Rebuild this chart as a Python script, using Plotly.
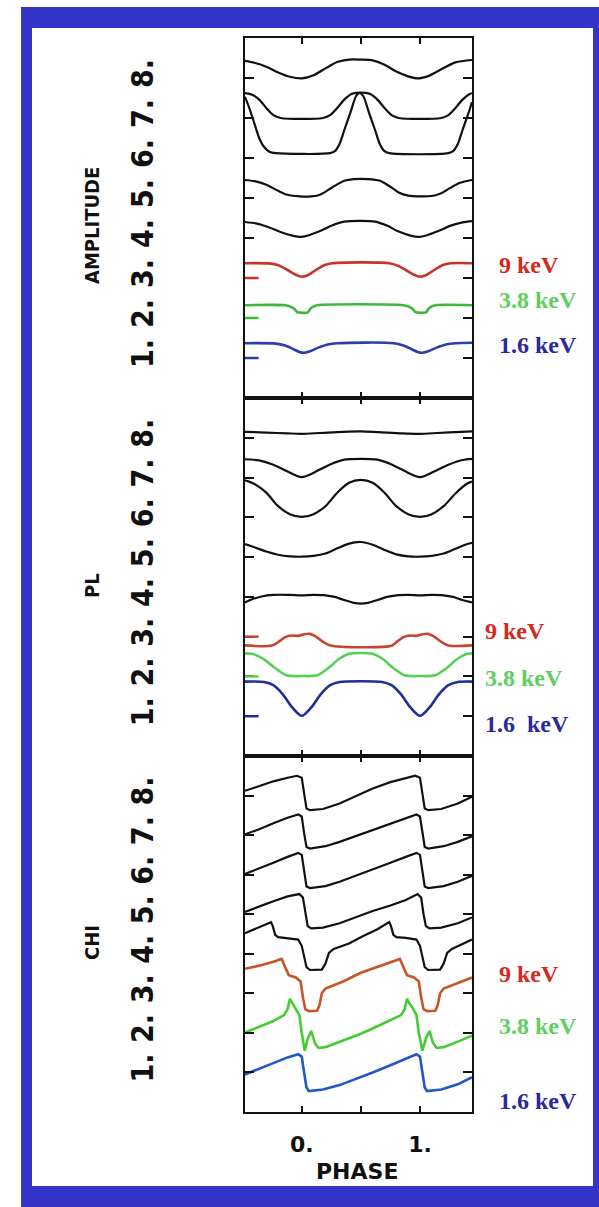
import plotly.graph_objects as go

# ---------------- data (phase, normalised value + offset) ----------------
PHASE_RANGE = [-0.48, 1.44]
Y_RANGE = [0, 9]
Y_TICKS = [1, 2, 3, 4, 5, 6, 7, 8]
Y_TICK_TEXT = ["1.", "2.", "3.", "4.", "5.", "6.", "7.", "8."]
X_TICKS = [0, 0.5, 1]
X_TICK_TEXT = ["0.", "", "1."]
PANEL_TITLES = ["AMPLITUDE", "PL", "CHI"]
ENERGY_LABELS = ["9 keV", "3.8 keV", "1.6 keV"]
ENERGY_LABELS_PL = ["9 keV", "3.8 keV", "1.6  keV"]

# AMPLITUDE panel
amp_8 = [(-0.48, 8.43), (-0.40, 8.38), (-0.30, 8.28), (-0.20, 8.14), (-0.10, 8.03), (0.00, 7.99),
         (0.10, 8.07), (0.20, 8.24), (0.30, 8.40), (0.40, 8.46), (0.50, 8.46), (0.60, 8.44),
         (0.70, 8.33), (0.80, 8.16), (0.90, 8.04), (0.98, 7.99), (1.08, 8.06), (1.20, 8.25),
         (1.30, 8.39), (1.44, 8.45)]
amp_7 = [(-0.48, 7.62), (-0.42, 7.58), (-0.36, 7.46), (-0.30, 7.25), (-0.24, 7.07), (-0.18, 7.00),
         (0.18, 7.00), (0.24, 7.07), (0.30, 7.25), (0.36, 7.46), (0.42, 7.60), (0.46, 7.63),
         (0.54, 7.63), (0.58, 7.60), (0.64, 7.46), (0.70, 7.25), (0.76, 7.07), (0.82, 7.00),
         (1.18, 7.00), (1.24, 7.07), (1.30, 7.25), (1.36, 7.46), (1.42, 7.60), (1.44, 7.62)]
amp_6 = [(-0.48, 7.53), (-0.45, 7.30), (-0.41, 6.95), (-0.36, 6.50), (-0.32, 6.28), (-0.27, 6.15),
         (-0.22, 6.12), (0.24, 6.12), (0.28, 6.17), (0.32, 6.35), (0.36, 6.70), (0.41, 7.12),
         (0.46, 7.55), (0.49, 7.63), (0.52, 7.55), (0.57, 7.12), (0.62, 6.70), (0.66, 6.35),
         (0.70, 6.17), (0.74, 6.12), (1.24, 6.12), (1.28, 6.17), (1.32, 6.35), (1.36, 6.70),
         (1.41, 7.12), (1.44, 7.40)]
amp_5 = [(-0.48, 5.45), (-0.40, 5.42), (-0.30, 5.33), (-0.20, 5.18), (-0.12, 5.08), (-0.02, 5.04),
         (0.08, 5.04), (0.16, 5.09), (0.26, 5.27), (0.36, 5.43), (0.44, 5.47), (0.56, 5.47),
         (0.66, 5.43), (0.74, 5.30), (0.82, 5.14), (0.90, 5.06), (1.00, 5.04), (1.10, 5.05),
         (1.18, 5.12), (1.26, 5.26), (1.34, 5.38), (1.44, 5.45)]
amp_4 = [(-0.48, 4.40), (-0.38, 4.36), (-0.28, 4.27), (-0.18, 4.15), (-0.08, 4.06), (0.00, 4.03),
         (0.06, 4.07), (0.16, 4.18), (0.26, 4.32), (0.36, 4.41), (0.50, 4.43), (0.62, 4.41),
         (0.72, 4.31), (0.82, 4.16), (0.92, 4.06), (0.99, 4.03), (1.06, 4.07), (1.16, 4.18),
         (1.26, 4.31), (1.36, 4.39), (1.44, 4.42)]
amp_3 = [(-0.48, 3.37), (-0.26, 3.36), (-0.19, 3.31), (-0.12, 3.20), (-0.05, 3.08), (0.00, 3.03),
         (0.05, 3.07), (0.12, 3.20), (0.19, 3.32), (0.26, 3.37), (0.74, 3.37), (0.81, 3.31),
         (0.88, 3.20), (0.95, 3.08), (1.00, 3.03), (1.05, 3.07), (1.12, 3.20), (1.19, 3.32),
         (1.26, 3.37), (1.44, 3.37)]
amp_2 = [(-0.48, 2.32), (-0.14, 2.32), (-0.10, 2.29), (-0.06, 2.22), (-0.04, 2.15), (0.05, 2.14),
         (0.07, 2.22), (0.10, 2.29), (0.13, 2.32), (0.86, 2.32), (0.90, 2.29), (0.94, 2.22),
         (0.96, 2.15), (1.05, 2.14), (1.07, 2.22), (1.10, 2.29), (1.13, 2.32), (1.44, 2.32)]
amp_1 = [(-0.48, 1.37), (-0.22, 1.36), (-0.14, 1.31), (-0.07, 1.22), (-0.02, 1.15), (0.02, 1.13),
         (0.07, 1.17), (0.14, 1.26), (0.22, 1.34), (0.30, 1.37), (0.78, 1.37), (0.86, 1.31),
         (0.93, 1.22), (0.98, 1.15), (1.02, 1.13), (1.07, 1.17), (1.14, 1.26), (1.22, 1.34),
         (1.30, 1.37), (1.44, 1.38)]

# PL panel
pl_8 = [(-0.48, 8.15), (-0.30, 8.13), (-0.12, 8.11), (0.00, 8.10), (0.15, 8.12), (0.35, 8.15),
        (0.50, 8.16), (0.65, 8.14), (0.85, 8.11), (1.00, 8.10), (1.15, 8.12), (1.35, 8.15),
        (1.44, 8.16)]
pl_7 = [(-0.48, 7.46), (-0.36, 7.43), (-0.24, 7.32), (-0.12, 7.15), (-0.04, 7.04), (0.00, 7.01),
        (0.04, 7.04), (0.12, 7.15), (0.24, 7.33), (0.36, 7.45), (0.50, 7.47), (0.64, 7.45),
        (0.76, 7.33), (0.88, 7.15), (0.96, 7.04), (1.00, 7.01), (1.04, 7.04), (1.12, 7.15),
        (1.24, 7.32), (1.36, 7.44), (1.44, 7.47)]
pl_6 = [(-0.48, 6.93), (-0.40, 6.84), (-0.30, 6.62), (-0.20, 6.28), (-0.10, 6.08), (0.00, 6.01),
        (0.10, 6.08), (0.20, 6.28), (0.30, 6.62), (0.40, 6.87), (0.50, 6.94), (0.60, 6.87),
        (0.70, 6.62), (0.80, 6.28), (0.90, 6.08), (1.00, 6.01), (1.10, 6.08), (1.20, 6.28),
        (1.30, 6.60), (1.40, 6.85), (1.44, 6.90)]
pl_5 = [(-0.48, 5.33), (-0.40, 5.25), (-0.30, 5.14), (-0.20, 5.06), (-0.10, 5.02), (0.00, 5.01),
        (0.10, 5.03), (0.20, 5.09), (0.30, 5.22), (0.40, 5.34), (0.50, 5.38), (0.60, 5.31),
        (0.70, 5.18), (0.80, 5.07), (0.90, 5.02), (1.00, 5.01), (1.10, 5.03), (1.20, 5.09),
        (1.30, 5.21), (1.40, 5.33), (1.44, 5.36)]
pl_4 = [(-0.48, 3.86), (-0.42, 3.94), (-0.34, 4.01), (-0.24, 4.05), (-0.10, 4.05), (0.00, 4.04),
        (0.10, 4.05), (0.20, 4.04), (0.28, 4.00), (0.36, 3.92), (0.44, 3.85), (0.50, 3.83),
        (0.56, 3.85), (0.64, 3.92), (0.72, 4.00), (0.80, 4.04), (0.90, 4.05), (1.00, 4.04),
        (1.10, 4.05), (1.20, 4.04), (1.28, 4.00), (1.36, 3.92), (1.44, 3.86)]
pl_3 = [(-0.48, 2.78), (-0.26, 2.77), (-0.20, 2.86), (-0.14, 2.99), (-0.08, 3.03), (-0.03, 3.02),
        (0.02, 3.06), (0.07, 3.07), (0.12, 3.00), (0.18, 2.87), (0.24, 2.78), (0.76, 2.77),
        (0.80, 2.86), (0.86, 2.99), (0.92, 3.03), (0.97, 3.02), (1.02, 3.06), (1.07, 3.07),
        (1.12, 3.00), (1.18, 2.87), (1.24, 2.78), (1.44, 2.78)]
pl_2 = [(-0.48, 2.58), (-0.42, 2.57), (-0.33, 2.45), (-0.22, 2.20), (-0.13, 2.03), (0.00, 2.01),
        (0.13, 2.03), (0.22, 2.20), (0.32, 2.45), (0.40, 2.57), (0.50, 2.59), (0.60, 2.57),
        (0.68, 2.45), (0.78, 2.20), (0.87, 2.03), (1.00, 2.01), (1.13, 2.03), (1.22, 2.20),
        (1.32, 2.45), (1.40, 2.57), (1.44, 2.58)]
pl_1 = [(-0.48, 1.87), (-0.32, 1.86), (-0.24, 1.78), (-0.16, 1.55), (-0.08, 1.22), (0.00, 1.01),
        (0.08, 1.22), (0.16, 1.55), (0.24, 1.78), (0.32, 1.86), (0.50, 1.88), (0.68, 1.86),
        (0.76, 1.78), (0.84, 1.55), (0.92, 1.22), (1.00, 1.01), (1.08, 1.22), (1.16, 1.55),
        (1.24, 1.78), (1.32, 1.86), (1.44, 1.87)]

# CHI panel
chi_8 = [(-0.48, 8.12), (-0.36, 8.25), (-0.24, 8.36), (-0.12, 8.45), (-0.04, 8.50), (0.00, 8.45),
         (0.02, 8.00), (0.04, 7.67), (0.07, 7.63), (0.18, 7.66), (0.32, 7.80), (0.46, 8.00),
         (0.60, 8.18), (0.75, 8.34), (0.88, 8.45), (0.96, 8.50), (1.00, 8.45), (1.02, 8.00),
         (1.04, 7.67), (1.07, 7.63), (1.18, 7.66), (1.32, 7.80), (1.44, 7.97)]
chi_7 = [(-0.48, 7.02), (-0.36, 7.15), (-0.24, 7.30), (-0.12, 7.44), (-0.03, 7.52), (0.00, 7.47),
         (0.02, 7.05), (0.04, 6.70), (0.07, 6.66), (0.20, 6.72), (0.32, 6.83), (0.46, 6.98),
         (0.60, 7.13), (0.75, 7.30), (0.88, 7.44), (0.97, 7.52), (1.00, 7.47), (1.02, 7.05),
         (1.04, 6.70), (1.07, 6.66), (1.20, 6.72), (1.32, 6.83), (1.44, 6.97)]
chi_6 = [(-0.48, 6.02), (-0.36, 6.15), (-0.24, 6.30), (-0.12, 6.45), (-0.03, 6.55), (0.00, 6.50),
         (0.02, 6.05), (0.04, 5.70), (0.07, 5.66), (0.20, 5.71), (0.32, 5.82), (0.46, 5.97),
         (0.60, 6.12), (0.75, 6.30), (0.88, 6.45), (0.97, 6.55), (1.00, 6.50), (1.02, 6.05),
         (1.04, 5.70), (1.07, 5.66), (1.20, 5.71), (1.32, 5.82), (1.44, 5.97)]
chi_5 = [(-0.48, 5.06), (-0.36, 5.20), (-0.24, 5.33), (-0.12, 5.45), (-0.02, 5.51), (0.01, 5.42),
         (0.03, 5.00), (0.05, 4.70), (0.08, 4.64), (0.18, 4.66), (0.32, 4.77), (0.46, 4.93),
         (0.60, 5.08), (0.75, 5.22), (0.88, 5.36), (0.98, 5.51), (1.01, 5.42), (1.03, 5.00),
         (1.05, 4.70), (1.08, 4.64), (1.18, 4.66), (1.32, 4.77), (1.44, 4.92)]
chi_4 = [(-0.48, 4.52), (-0.38, 4.64), (-0.30, 4.74), (-0.26, 4.80), (-0.245, 4.70), (-0.225, 4.48),
         (-0.20, 4.42), (-0.12, 4.40), (-0.03, 4.36), (0.00, 4.20), (0.02, 3.90), (0.04, 3.66),
         (0.07, 3.59), (0.17, 3.60), (0.20, 3.75), (0.23, 4.02), (0.27, 4.12), (0.40, 4.26),
         (0.52, 4.45), (0.64, 4.62), (0.74, 4.80), (0.755, 4.70), (0.775, 4.48), (0.80, 4.42),
         (0.88, 4.40), (0.97, 4.36), (1.00, 4.20), (1.02, 3.90), (1.04, 3.66), (1.07, 3.59),
         (1.17, 3.60), (1.20, 3.75), (1.23, 4.02), (1.27, 4.12), (1.44, 4.36)]
chi_3 = [(-0.48, 3.62), (-0.36, 3.70), (-0.24, 3.80), (-0.17, 3.87), (-0.14, 3.66), (-0.11, 3.46),
         (-0.05, 3.40), (-0.01, 3.30), (0.01, 2.90), (0.03, 2.60), (0.06, 2.55), (0.13, 2.56),
         (0.15, 2.70), (0.17, 3.00), (0.20, 3.12), (0.35, 3.30), (0.50, 3.52), (0.65, 3.68),
         (0.83, 3.87), (0.86, 3.66), (0.89, 3.46), (0.95, 3.40), (0.99, 3.30), (1.01, 2.90),
         (1.03, 2.60), (1.06, 2.55), (1.13, 2.56), (1.15, 2.70), (1.17, 3.00), (1.20, 3.12),
         (1.32, 3.26), (1.44, 3.40)]
chi_2 = [(-0.48, 2.01), (-0.36, 2.15), (-0.24, 2.30), (-0.15, 2.45), (-0.12, 2.60), (-0.10, 2.86),
         (-0.08, 2.75), (-0.05, 2.62), (-0.02, 2.45), (0.00, 2.00), (0.025, 1.55), (0.05, 1.85),
         (0.08, 2.05), (0.11, 1.75), (0.14, 1.62), (0.20, 1.64), (0.35, 1.80), (0.50, 1.98),
         (0.65, 2.18), (0.84, 2.45), (0.87, 2.60), (0.89, 2.86), (0.91, 2.75), (0.94, 2.62),
         (0.97, 2.45), (0.99, 2.00), (1.02, 1.55), (1.05, 1.85), (1.08, 2.05), (1.11, 1.75),
         (1.14, 1.62), (1.20, 1.64), (1.32, 1.78), (1.44, 1.93)]
chi_1 = [(-0.48, 0.95), (-0.36, 1.10), (-0.24, 1.25), (-0.12, 1.38), (-0.03, 1.46), (0.00, 1.40),
         (0.02, 1.00), (0.04, 0.62), (0.06, 0.53), (0.18, 0.57), (0.32, 0.68), (0.46, 0.85),
         (0.60, 1.00), (0.75, 1.18), (0.89, 1.35), (0.97, 1.46), (1.00, 1.40), (1.02, 1.00),
         (1.04, 0.62), (1.06, 0.53), (1.18, 0.57), (1.32, 0.70), (1.44, 0.88)]

# ---------------- styling ----------------
W, H = 599, 1207
FRAME_BLUE = "#3434c8"
PANEL_COLORS = [
    ["#2c3fa8", "#3cb83c", "#c8342a"],   # AMPLITUDE: blue, green, red
    ["#1f2f96", "#55d055", "#c8442e"],   # PL
    ["#2356c8", "#44cc33", "#c85428"],   # CHI
]
LABEL_COLORS = ["#d42a1e", "#5fcf5f", "#2a2a9c"]
AXIS_FONT = "DejaVu Sans Condensed, DejaVu Sans, sans-serif"

panels = [
    [amp_1, amp_2, amp_3, amp_4, amp_5, amp_6, amp_7, amp_8],
    [pl_1, pl_2, pl_3, pl_4, pl_5, pl_6, pl_7, pl_8],
    [chi_1, chi_2, chi_3, chi_4, chi_5, chi_6, chi_7, chi_8],
]
# pixel rows of each panel (top, bottom)
panel_px = [(38, 398), (398, 756), (756, 1112)]
x_px = (245, 472)

fig = go.Figure()
layout = dict(
    width=W, height=H, margin=dict(l=0, r=0, t=0, b=0),
    paper_bgcolor="white", plot_bgcolor="white", showlegend=False,
)

for i, curves in enumerate(panels):
    n = "" if i == 0 else str(i + 1)
    top, bot = panel_px[i]
    for k, pts in enumerate(curves):
        xs = [p[0] for p in pts]
        ys = [p[1] for p in pts]
        if k < 3:
            color, width = PANEL_COLORS[i][k], 2.6
        else:
            color, width = "#111111", 2.2
        shape = "linear" if i == 2 else "spline"
        fig.add_trace(go.Scatter(
            x=xs, y=ys, mode="lines", xaxis="x" + n, yaxis="y" + n,
            line=dict(color=color, width=width, shape=shape,
                      **({"smoothing": 0.8} if shape == "spline" else {})),
            hoverinfo="skip",
        ))
    layout["xaxis" + n] = dict(
        domain=[x_px[0] / W, x_px[1] / W], range=PHASE_RANGE, anchor="y" + n,
        tickvals=X_TICKS, ticktext=X_TICK_TEXT, ticks="inside", ticklen=6, tickwidth=2,
        tickcolor="#111", showline=True, linewidth=2, linecolor="#111", mirror="ticks",
        showgrid=False, zeroline=False, showticklabels=(i == 2),
        tickfont=dict(family="DejaVu Sans, sans-serif", size=22, color="#111", weight="bold"),
        ticklabelstandoff=12,
    )
    layout["yaxis" + n] = dict(
        domain=[1 - bot / H, 1 - top / H], range=Y_RANGE, anchor="x" + n,
        tickvals=Y_TICKS, ticktext=Y_TICK_TEXT, tickangle=-90, ticks="inside", ticklen=9,
        tickwidth=2, tickcolor="#111", showline=True, linewidth=2, linecolor="#111",
        mirror="ticks", showgrid=False, zeroline=False,
        tickfont=dict(family=AXIS_FONT, size=30, color="#111", weight="bold"),
        ticklabelstandoff=78,
    )

fig.update_layout(**layout)

# blue frame
fig.add_shape(type="rect", xref="paper", yref="paper", x0=21 / W, x1=1.0, y0=0.0, y1=1 - 7 / H,
              fillcolor=FRAME_BLUE, line_width=0, layer="below")
fig.add_shape(type="rect", xref="paper", yref="paper", x0=32 / W, x1=593 / W,
              y0=1 - 1186 / H, y1=1 - 28 / H, fillcolor="white", line_width=0, layer="below")

# coloured tick marks on the left axis (panels 1 and 2)
for i in range(2):
    n = "" if i == 0 else str(i + 1)
    for k, val in enumerate([1, 2, 3]):
        fig.add_shape(type="line", xref="x" + n + " domain", yref="y" + n,
                      x0=0, x1=0.06, y0=val, y1=val,
                      line=dict(color=PANEL_COLORS[i][k], width=2.5))

# panel titles
title_y_px = [226, 586, 943]
for i, t in enumerate(PANEL_TITLES):
    fig.add_annotation(text=t, xref="paper", yref="paper", x=92 / W, y=1 - title_y_px[i] / H,
                       textangle=-90, showarrow=False, xanchor="center", yanchor="middle",
                       font=dict(family=AXIS_FONT, size=20, color="#111", weight="bold"))

# energy labels
label_pos = [
    (497, [265, 300, 345]),
    (483, [631, 678, 724]),
    (497, [974, 1026, 1101]),
]
for i, (xp, ys) in enumerate(label_pos):
    texts = ENERGY_LABELS_PL if i == 1 else ENERGY_LABELS
    for k, yp in enumerate(ys):
        fig.add_annotation(text=texts[k], xref="paper", yref="paper", x=xp / W, y=1 - yp / H,
                           showarrow=False, xanchor="left", yanchor="middle",
                           font=dict(family="Liberation Serif, DejaVu Serif, serif", size=24,
                                     color=LABEL_COLORS[k], weight="bold"))

# x axis title
fig.add_annotation(text="PHASE", xref="paper", yref="paper", x=357 / W, y=1 - 1171 / H,
                   showarrow=False, xanchor="center", yanchor="middle",
                   font=dict(family="DejaVu Sans, sans-serif", size=22, color="#111", weight="bold"))

fig.write_html("out.html", config={"displayModeBar": False},
               post_script="document.body.style.margin='0';document.body.style.overflow='hidden';")
